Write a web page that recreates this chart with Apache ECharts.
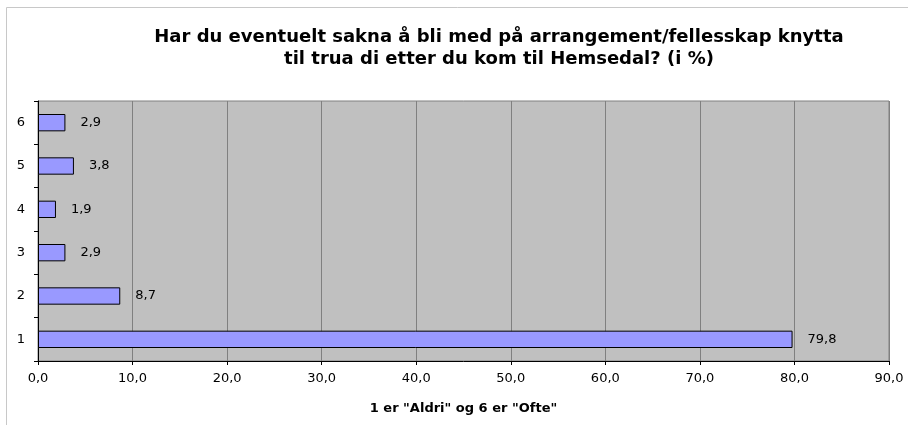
<!DOCTYPE html>
<html><head><meta charset="utf-8">
<script src="https://cdn.jsdelivr.net/npm/echarts@6/dist/echarts.min.js"></script>
<style>html,body{margin:0;padding:0;background:#fff}#c{width:908px;height:425px}</style>
</head><body><div id="c"></div>
<script>
const titleLines = ['Har du eventuelt sakna å bli med på arrangement/fellesskap knytta', 'til trua di etter du kom til Hemsedal? (i %)'];
const categories = ['1', '2', '3', '4', '5', '6'];
const values = [79.8, 8.7, 2.9, 1.9, 3.8, 2.9];
const xAxisName = '1 er "Aldri" og 6 er "Ofte"';
const xMin = 0, xMax = 90, xStep = 10;

const fmt = v => Number(v).toFixed(1).replace('.', ',');
const font = 'Verdana, "DejaVu Sans", sans-serif';
const chart = echarts.init(document.getElementById('c'), null, {renderer: 'canvas'});
chart.setOption({
  animation: false,
  backgroundColor: '#ffffff',
  title: {
    text: titleLines.join('\n'),
    left: 494, top: 21, textAlign: 'center',
    textStyle: {fontFamily: font, fontWeight: 'bold', fontSize: 18, color: '#000', lineHeight: 22}
  },
  graphic: [{
    type: 'rect', silent: true, z: -1,
    shape: {x: 6.5, y: 7.5, width: 1200, height: 1200},
    style: {fill: 'none', stroke: '#c8c8c8', lineWidth: 1}
  }],
  grid: {left: 38, top: 101, right: 19, bottom: 64, show: true, backgroundColor: '#c0c0c0', borderColor: '#808080', borderWidth: 1},
  xAxis: {
    type: 'value', min: xMin, max: xMax, interval: xStep,
    name: xAxisName, nameLocation: 'middle', nameGap: 41,
    nameTextStyle: {fontFamily: font, fontWeight: 'bold', fontSize: 13, color: '#000'},
    axisLine: {show: true, lineStyle: {color: '#000', width: 1}},
    axisTick: {show: true, length: 4, lineStyle: {color: '#000'}},
    axisLabel: {formatter: fmt, fontFamily: font, fontSize: 13, color: '#000', margin: 11},
    splitLine: {show: true, lineStyle: {color: '#808080', width: 1}}
  },
  yAxis: {
    type: 'category', data: categories,
    axisLine: {show: true, lineStyle: {color: '#000', width: 1}},
    axisTick: {show: true, length: 4, lineStyle: {color: '#000'}},
    axisLabel: {fontFamily: font, fontSize: 13, color: '#000', margin: 13},
    splitLine: {show: false}
  },
  series: [{
    type: 'bar', data: values, barCategoryGap: '60%',
    itemStyle: {color: '#9999ff', borderColor: '#000', borderWidth: 1},
    label: {show: true, position: 'right', distance: 15, formatter: p => fmt(p.value),
      fontFamily: font, fontSize: 13, color: '#000'}
  }]
});
</script></body></html>
